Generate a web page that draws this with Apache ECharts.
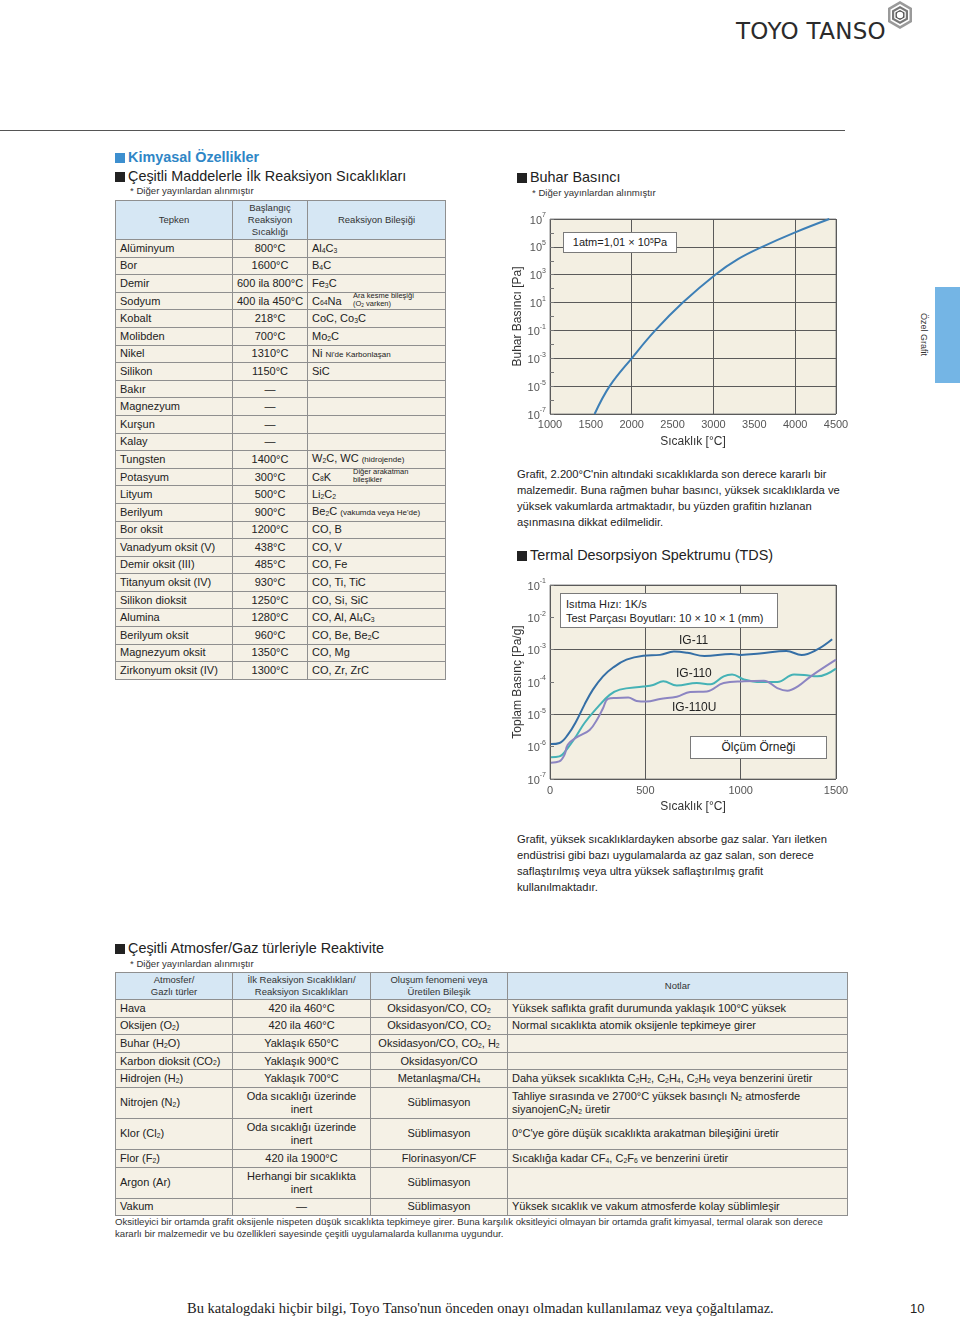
<!DOCTYPE html>
<html lang="tr">
<head>
<meta charset="utf-8">
<title>Kimyasal Özellikler</title>
<script src="https://cdn.jsdelivr.net/npm/echarts@6/dist/echarts.min.js"></script>
<style>
body {
  margin: 0;
  width: 960px;
  height: 1319px;
  position: relative;
  overflow: hidden;
  background: #fff;
  font-family: "Liberation Sans", Arial, sans-serif;
  color: #222;
}
.abs { position: absolute; white-space: nowrap; }
.sq { display: inline-block; width: 10px; height: 10px; background: #222; margin-right: 3px; vertical-align: -1px; }
.sq.blue { background: #3d8fcf; }
.h1 { font-size: 14.4px; font-weight: bold; color: #2f86c6; line-height: 16px; }
.h2 { font-size: 14.4px; line-height: 16px; color: #222; }
.src { font-size: 9.6px; color: #333; line-height: 12px; }
.para { font-size: 11.2px; line-height: 16px; color: #222; }
sub { font-size: 0.62em; vertical-align: baseline; position: relative; top: 0.12em; line-height: 0; }
sup { font-size: 0.62em; vertical-align: baseline; position: relative; top: -0.5em; line-height: 0; }
table { border-collapse: collapse; table-layout: fixed; position: absolute; }
td, th { border: 1px solid #8f8f8f; padding: 0 4px; font-size: 11px; font-weight: normal; white-space: nowrap; overflow: visible; }
th { background: #d6e7f4; font-size: 9.5px; line-height: 12px; color: #333; text-align: center; }
td { background: #f5f1e6; line-height: 13px; }
td.c { text-align: center; }
td.rel { position: relative; }
.small { font-size: 8px; }
.note { position: absolute; left: 45px; top: -1px; font-size: 7.5px; line-height: 8.5px; z-index: 2; }
.chart { position: absolute; }
.box { position: absolute; background: #fff; border: 1px solid #7a7a7a; font-size: 11px; color: #222; box-sizing: border-box; }
.lbl { position: absolute; font-size: 12px; color: #222; white-space: nowrap; }
</style>
</head>
<body>

<!-- üst logo -->
<div class="abs" style="left:736px; top:17px; font-family:'DejaVu Sans', sans-serif; font-size:23px; letter-spacing:0.3px; color:#2b2b2b; line-height:28px;">TOYO TANSO</div>
<svg class="abs" style="left:885px; top:0px;" width="30" height="30" viewBox="0 0 30 30">
  <polygon points="15,1 27,8 27,22 15,29 3,22 3,8" fill="#9a9a9a"/>
  <polygon points="15,4 24.5,9.5 24.5,20.5 15,26 5.5,20.5 5.5,9.5" fill="#fff"/>
  <polygon points="15,6 23,10.5 23,19.5 15,24 7,19.5 7,10.5" fill="#777"/>
  <polygon points="15,8.5 20.8,11.8 20.8,18.2 15,21.5 9.2,18.2 9.2,11.8" fill="#fff"/>
  <polygon points="15,10 19.5,12.5 19.5,17.5 15,20 10.5,17.5 10.5,12.5" fill="#555"/>
  <circle cx="15" cy="15" r="3.2" fill="#fff"/>
</svg>
<div class="abs" style="left:0; top:130px; width:845px; height:1px; background:#555;"></div>

<!-- yan sekme -->
<div class="abs" style="left:935px; top:287px; width:25px; height:96px; background:#74b5e5;"></div>
<div class="abs" style="left:919px; top:313px; writing-mode:vertical-rl; font-size:9px; color:#333;">Özel Grafit</div>

<!-- sol başlıklar -->
<div class="abs h1" style="left:115px; top:149px;"><span class="sq blue"></span>Kimyasal Özellikler</div>
<div class="abs h2" style="left:115px; top:168px;"><span class="sq"></span>Çeşitli Maddelerle İlk Reaksiyon Sıcaklıkları</div>
<div class="abs src" style="left:130px; top:185px;">* Diğer yayınlardan alınmıştır</div>
<table id="reactTable" style="left:115px; top:200px; width:330px;"></table>

<!-- buhar basıncı -->
<div class="abs h2" style="left:517px; top:169px;"><span class="sq"></span>Buhar Basıncı</div>
<div class="abs src" style="left:532px; top:187px;">* Diğer yayınlardan alınmıştır</div>
<div id="vaporChart" class="chart" style="left:495px; top:205px; width:370px; height:260px;"></div>
<div class="box" style="left:563px; top:232px; width:114px; height:21px; line-height:19px; text-align:center;">1atm=1,01 × 10<sup>5</sup>Pa</div>

<div class="abs para" style="left:517px; top:466px;">
Grafit, 2.200°C'nin altındaki sıcaklıklarda son derece kararlı bir<br>
malzemedir. Buna rağmen buhar basıncı, yüksek sıcaklıklarda ve<br>
yüksek vakumlarda artmaktadır, bu yüzden grafitin hızlanan<br>
aşınmasına dikkat edilmelidir.
</div>

<!-- TDS -->
<div class="abs h2" style="left:517px; top:547px;"><span class="sq"></span>Termal Desorpsiyon Spektrumu (TDS)</div>
<div id="tdsChart" class="chart" style="left:495px; top:570px; width:370px; height:260px;"></div>
<div class="box" style="left:560px; top:593px; width:218px; height:35px; padding:3px 0 0 5px; line-height:14px;">Isıtma Hızı: 1K/s<br>Test Parçası Boyutları: 10 × 10 × 1 (mm)</div>
<div class="lbl" style="left:679px; top:633px;">IG-11</div>
<div class="lbl" style="left:676px; top:666px;">IG-110</div>
<div class="lbl" style="left:672px; top:700px;">IG-110U</div>
<div class="box" style="left:690px; top:736px; width:137px; height:23px; line-height:21px; text-align:center; font-size:12px;">Ölçüm Örneği</div>

<div class="abs para" style="left:517px; top:831px;">
Grafit, yüksek sıcaklıklardayken absorbe gaz salar. Yarı iletken<br>
endüstrisi gibi bazı uygulamalarda az gaz salan, son derece<br>
saflaştırılmış veya ultra yüksek saflaştırılmış grafit<br>
kullanılmaktadır.
</div>

<!-- atmosfer tablosu -->
<div class="abs h2" style="left:115px; top:940px;"><span class="sq"></span>Çeşitli Atmosfer/Gaz türleriyle Reaktivite</div>
<div class="abs src" style="left:130px; top:958px;">* Diğer yayınlardan alınmıştır</div>
<table id="gasTable" style="left:115px; top:972px; width:732px;"></table>
<div class="abs" style="left:115px; top:1216px; font-size:9.65px; line-height:12px; color:#333;">
Oksitleyici bir ortamda grafit oksijenle nispeten düşük sıcaklıkta tepkimeye girer. Buna karşılık oksitleyici olmayan bir ortamda grafit kimyasal, termal olarak son derece<br>
kararlı bir malzemedir ve bu özellikleri sayesinde çeşitli uygulamalarda kullanıma uygundur.
</div>

<!-- alt bilgi -->
<div class="abs" style="left:187px; top:1300px; font-family:'Liberation Serif', serif; font-size:14.5px; color:#222;">Bu katalogdaki hiçbir bilgi, Toyo Tanso'nun önceden onayı olmadan kullanılamaz veya çoğaltılamaz.</div>
<div class="abs" style="left:910px; top:1301px; font-size:13px; color:#222;">10</div>

<script>
// --- Çeşitli maddelerle ilk reaksiyon sıcaklıkları ---
const reactHeaders = ['Tepken', 'Başlangıç<br>Reaksiyon<br>Sıcaklığı', 'Reaksiyon Bileşiği']
const reactants = [
  'Alüminyum', 'Bor', 'Demir', 'Sodyum', 'Kobalt', 'Molibden', 'Nikel', 'Silikon',
  'Bakır', 'Magnezyum', 'Kurşun', 'Kalay', 'Tungsten', 'Potasyum', 'Lityum', 'Berilyum',
  'Bor oksit', 'Vanadyum oksit (V)', 'Demir oksit (III)', 'Titanyum oksit (IV)',
  'Silikon dioksit', 'Alumina', 'Berilyum oksit', 'Magnezyum oksit', 'Zirkonyum oksit (IV)'
]
const reactTemps = [
  '800°C', '1600°C', '600 ila 800°C', '400 ila 450°C', '218°C', '700°C', '1310°C', '1150°C',
  '—', '—', '—', '—', '1400°C', '300°C', '500°C', '900°C',
  '1200°C', '438°C', '485°C', '930°C', '1250°C', '1280°C', '960°C', '1350°C', '1300°C'
]
const reactProducts = [
  'Al<sub>4</sub>C<sub>3</sub>', 'B<sub>4</sub>C', 'Fe<sub>3</sub>C', 'C<sub>64</sub>Na',
  'CoC, Co<sub>3</sub>C', 'Mo<sub>2</sub>C', 'Ni <span class="small">Ni\'de Karbonlaşan</span>', 'SiC',
  '', '', '', '',
  'W<sub>2</sub>C, WC <span class="small">(hidrojende)</span>', 'C<sub>8</sub>K', 'Li<sub>2</sub>C<sub>2</sub>',
  'Be<sub>2</sub>C <span class="small">(vakumda veya He\'de)</span>',
  'CO, B', 'CO, V', 'CO, Fe', 'CO, Ti, TiC', 'CO, Si, SiC', 'CO, Al, Al<sub>4</sub>C<sub>3</sub>',
  'CO, Be, Be<sub>2</sub>C', 'CO, Mg', 'CO, Zr, ZrC'
]
const reactNotes = {
  3: 'Ara kesme bileşiği<br>(O<sub>2</sub> varken)',
  13: 'Diğer arakatman<br>bileşikler'
}

// --- Atmosfer / gaz türleriyle reaktivite ---
const gasHeaders = ['Atmosfer/<br>Gazlı türler', 'İlk Reaksiyon Sıcaklıkları/<br>Reaksiyon Sıcaklıkları', 'Oluşum fenomeni veya<br>Üretilen Bileşik', 'Notlar']
const gasTypes = [
  'Hava', 'Oksijen (O<sub>2</sub>)', 'Buhar (H<sub>2</sub>O)', 'Karbon dioksit (CO<sub>2</sub>)', 'Hidrojen (H<sub>2</sub>)',
  'Nitrojen (N<sub>2</sub>)', 'Klor (Cl<sub>2</sub>)', 'Flor (F<sub>2</sub>)', 'Argon (Ar)', 'Vakum'
]
const gasTemps = [
  '420 ila 460°C', '420 ila 460°C', 'Yaklaşık 650°C', 'Yaklaşık 900°C', 'Yaklaşık 700°C',
  'Oda sıcaklığı üzerinde<br>inert', 'Oda sıcaklığı üzerinde<br>inert', '420 ila 1900°C',
  'Herhangi bir sıcaklıkta<br>inert', '—'
]
const gasProducts = [
  'Oksidasyon/CO, CO<sub>2</sub>', 'Oksidasyon/CO, CO<sub>2</sub>', 'Oksidasyon/CO, CO<sub>2</sub>, H<sub>2</sub>',
  'Oksidasyon/CO', 'Metanlaşma/CH<sub>4</sub>', 'Süblimasyon', 'Süblimasyon', 'Florinasyon/CF',
  'Süblimasyon', 'Süblimasyon'
]
const gasNotes = [
  'Yüksek saflıkta grafit durumunda yaklaşık 100°C yüksek',
  'Normal sıcaklıkta atomik oksijenle tepkimeye girer',
  '', '',
  'Daha yüksek sıcaklıkta C<sub>2</sub>H<sub>2</sub>, C<sub>2</sub>H<sub>4</sub>, C<sub>2</sub>H<sub>6</sub> veya benzerini üretir',
  'Tahliye sırasında ve 2700°C yüksek basınçlı N<sub>2</sub> atmosferde<br>siyanojenC<sub>2</sub>N<sub>2</sub> üretir',
  '0°C\'ye göre düşük sıcaklıkta arakatman bileşiğini üretir',
  'Sıcaklığa kadar CF<sub>4</sub>, C<sub>2</sub>F<sub>6</sub> ve benzerini üretir',
  '',
  'Yüksek sıcaklık ve vakum atmosferde kolay süblimleşir'
]
const gasTallRows = [5, 6, 8]

// --- Buhar basıncı eğrisi (°C, Pa) ---
const vaporTemps = [1546, 1730, 2000, 2288, 2625, 3023, 3300, 3597, 4000, 4418]
const vaporPressures = [1e-7, 1e-5, 1e-3, 1e-1, 1e1, 1e3, 1.3e4, 1e5, 1.1e6, 1e7]

// --- TDS eğrileri (°C, Pa/g) ---
const ig11Temps = [5, 50, 93, 137, 181, 225, 278, 331, 401, 489, 577, 650, 720, 810, 950, 1000, 1100, 1240, 1320, 1400, 1480]
const ig11Values = [1.2e-6, 1.3e-6, 2.3e-6, 6.0e-6, 2.0e-5, 5.8e-5, 1.5e-4, 2.8e-4, 4.9e-4, 6.5e-4, 6.9e-4, 8.7e-4, 8.0e-4, 6.4e-4, 7.4e-4, 6.9e-4, 7.6e-4, 9.1e-4, 6.9e-4, 1.0e-3, 2.1e-3]
const ig110Temps = [5, 49, 93, 137, 181, 243, 313, 366, 489, 541, 594, 665, 770, 841, 911, 955, 1017, 1105, 1192, 1280, 1333, 1403, 1500]
const ig110Values = [4.7e-7, 5.0e-7, 9.1e-7, 2.1e-6, 5.4e-6, 1.5e-5, 4.0e-5, 5.8e-5, 7.2e-5, 8.1e-5, 1.05e-4, 7.8e-5, 9.3e-5, 8.5e-5, 1.5e-4, 1.7e-4, 1.2e-4, 1.0e-4, 1.0e-4, 1.7e-4, 1.65e-4, 1.5e-4, 2.6e-4]
const ig110uTemps = [5, 49, 76, 93, 137, 208, 251, 278, 304, 348, 410, 454, 506, 577, 665, 735, 823, 911, 1017, 1122, 1192, 1245, 1298, 1368, 1500]
const ig110uValues = [3.2e-7, 3.5e-7, 5.6e-7, 1.15e-6, 1.9e-6, 3.3e-6, 7.6e-6, 1.55e-5, 3.0e-5, 3.2e-5, 3.3e-5, 2.6e-5, 2.5e-5, 3.0e-5, 3.5e-5, 4.9e-5, 5.1e-5, 9.3e-5, 1.05e-4, 1.1e-4, 6.5e-5, 5.4e-5, 7.2e-5, 1.5e-4, 4.9e-4]

// tablo oluşturma
const buildReactTable = () => {
  const table = document.getElementById('reactTable')
  let html = '<colgroup><col style="width:117px"><col style="width:75px"><col style="width:138px"></colgroup>'
  html += '<tr style="height:39px">' + reactHeaders.map(h => '<th>' + h + '</th>').join('') + '</tr>'
  reactants.forEach((name, i) => {
    const note = reactNotes[i] ? '<span class="note">' + reactNotes[i] + '</span>' : ''
    html += '<tr style="height:17.6px"><td>' + name + '</td><td class="c">' + reactTemps[i] +
      '</td><td class="rel">' + reactProducts[i] + note + '</td></tr>'
  })
  table.innerHTML = html
}

const buildGasTable = () => {
  const table = document.getElementById('gasTable')
  let html = '<colgroup><col style="width:117px"><col style="width:138px"><col style="width:137px"><col style="width:340px"></colgroup>'
  html += '<tr style="height:27px">' + gasHeaders.map(h => '<th>' + h + '</th>').join('') + '</tr>'
  gasTypes.forEach((name, i) => {
    const h = gasTallRows.includes(i) ? 31 : 17.6
    html += '<tr style="height:' + h + 'px"><td>' + name + '</td><td class="c">' + gasTemps[i] +
      '</td><td class="c">' + gasProducts[i] + '</td><td>' + gasNotes[i] + '</td></tr>'
  })
  table.innerHTML = html
}

buildReactTable()
buildGasTable()

// grafikler
const FONT = 'Liberation Sans'
const powerLabel = {
  formatter: v => '{b|10}{s|' + Math.round(Math.log10(v)) + '}',
  rich: {
    b: { fontSize: 11, color: '#555', fontFamily: FONT, lineHeight: 14, verticalAlign: 'bottom' },
    s: { fontSize: 7, color: '#555', fontFamily: FONT, lineHeight: 14, verticalAlign: 'top' }
  },
  margin: 4
}
const plainLabel = { color: '#555', fontSize: 11, fontFamily: FONT, formatter: v => String(v) }
const axisName = { fontSize: 12, color: '#333', fontFamily: FONT }
const gridLine = { show: true, lineStyle: { color: '#5a5a5a', width: 1 } }
const gridBox = {
  left: 55, width: 286, show: true, containLabel: false, outerBoundsMode: 'none',
  backgroundColor: '#f3efe2', borderColor: '#8a8a8a', borderWidth: 1
}
const zip = (xs, ys) => xs.map((x, i) => [x, ys[i]])

const initVaporChart = () => {
  const chart = echarts.init(document.getElementById('vaporChart'))
  chart.setOption({
    animation: false,
    grid: { ...gridBox, top: 14, height: 195 },
    xAxis: [
      {
        type: 'value', min: 1000, max: 4500, interval: 500,
        axisLine: { show: false }, axisTick: { show: false }, splitLine: { show: false },
        axisLabel: { ...plainLabel, margin: 5 },
        name: 'Sıcaklık [°C]', nameLocation: 'middle', nameGap: 22, nameMoveOverlap: false, nameTextStyle: axisName
      },
      {
        type: 'value', min: 1000, max: 4500, interval: 1000, position: 'bottom',
        axisLine: { show: false }, axisTick: { show: false }, axisLabel: { show: false },
        splitLine: gridLine
      }
    ],
    yAxis: [
      {
        type: 'log', logBase: 10, min: 1e-7, max: 1e7, interval: 2,
        axisLine: { show: false }, axisTick: { show: false },
        splitLine: gridLine,
        axisLabel: powerLabel,
        name: 'Buhar Basıncı [Pa]', nameLocation: 'middle', nameGap: 26, nameMoveOverlap: false, nameTextStyle: axisName
      },
      {
        type: 'log', logBase: 10, min: 1e-7, max: 1e7, interval: 1, position: 'left',
        axisLine: { show: false }, axisLabel: { show: false }, splitLine: { show: false },
        axisTick: { show: true, inside: true, length: 4, lineStyle: { color: '#777' } }
      }
    ],
    series: [
      {
        type: 'line', data: zip(vaporTemps, vaporPressures), smooth: 0.4, symbol: 'none',
        lineStyle: { color: '#3d7fb6', width: 2 }
      }
    ]
  })
  return chart
}

const initTdsChart = () => {
  const chart = echarts.init(document.getElementById('tdsChart'))
  const line = (name, xs, ys, color) => ({
    name, type: 'line', data: zip(xs, ys), smooth: 0.4, symbol: 'none',
    lineStyle: { color, width: 2 }
  })
  chart.setOption({
    animation: false,
    grid: { ...gridBox, top: 15, height: 194 },
    xAxis: {
      type: 'value', min: 0, max: 1500, interval: 500,
      axisLine: { show: false }, axisTick: { show: false },
      splitLine: gridLine,
      axisLabel: { ...plainLabel, margin: 6 },
      name: 'Sıcaklık [°C]', nameLocation: 'middle', nameGap: 22, nameMoveOverlap: false, nameTextStyle: axisName
    },
    yAxis: [
      {
        type: 'log', logBase: 10, min: 1e-7, max: 1e-1, interval: 1,
        axisLine: { show: false }, splitLine: { show: false },
        axisTick: { show: true, inside: true, length: 4, lineStyle: { color: '#777' } },
        axisLabel: powerLabel,
        name: 'Toplam Basınç [Pa/g]', nameLocation: 'middle', nameGap: 26, nameMoveOverlap: false, nameTextStyle: axisName
      },
      {
        type: 'log', logBase: 10, min: 1e-7, max: 1e-1, interval: 2, position: 'left',
        axisLine: { show: false }, axisLabel: { show: false }, axisTick: { show: false },
        splitLine: gridLine
      }
    ],
    series: [
      line('IG-11', ig11Temps, ig11Values, '#356fa6'),
      line('IG-110', ig110Temps, ig110Values, '#45b2b6'),
      line('IG-110U', ig110uTemps, ig110uValues, '#8c85c2')
    ]
  })
  return chart
}

initVaporChart()
initTdsChart()
</script>
</body>
</html>
